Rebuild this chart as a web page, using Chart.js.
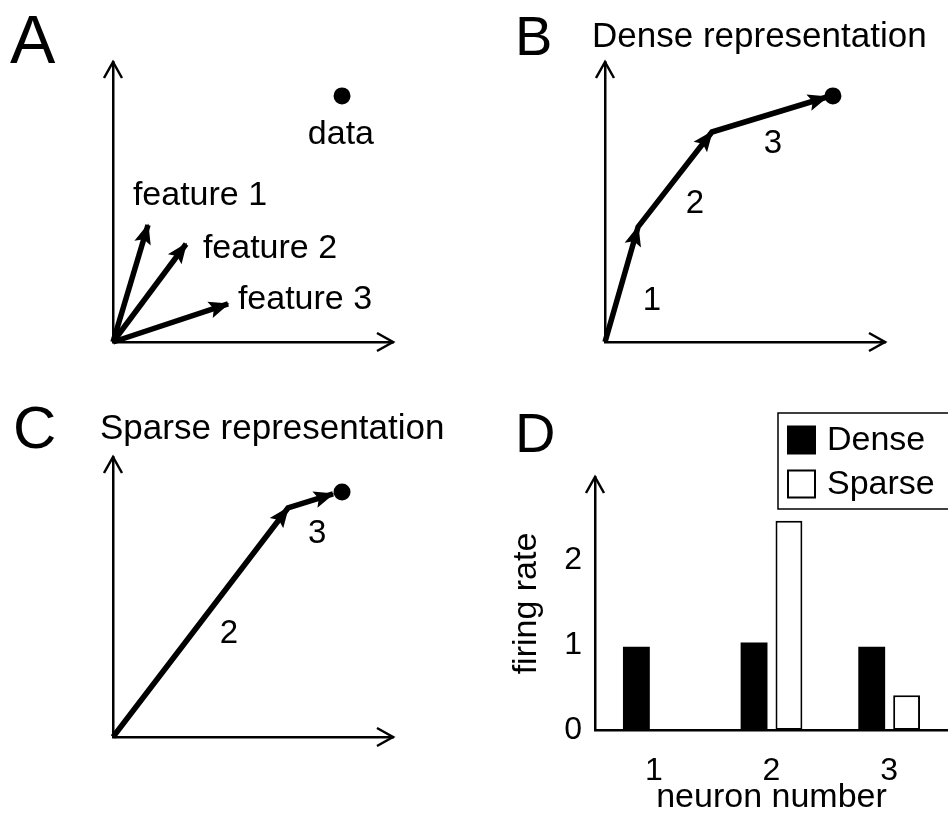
<!DOCTYPE html>
<html>
<head>
<meta charset="utf-8">
<script src="https://cdn.jsdelivr.net/npm/chart.js@4.4.1/dist/chart.umd.min.js"></script>
<style>
  html, body { margin: 0; padding: 0; background: #fff; }
  #wrap { position: relative; width: 948px; height: 815px; overflow: hidden; background: #fff; }
  #wrap canvas { position: absolute; left: 0; top: 0; }
</style>
</head>
<body>
<div id="wrap">
  <canvas id="cA" width="948" height="815" style="width:948px;height:815px"></canvas>
  <canvas id="cB" width="948" height="815" style="width:948px;height:815px"></canvas>
  <canvas id="cC" width="948" height="815" style="width:948px;height:815px"></canvas>
  <canvas id="cD" width="948" height="815" style="width:948px;height:815px"></canvas>
</div>
<script>
// ---------------- data ----------------
// Panel A: feature vectors (tips, all starting at the origin) and the data point
const featureNames = ['feature 1', 'feature 2', 'feature 3'];
const featureTipX = [1.25, 2.61, 4.11];
const featureTipY = [4.18, 3.50, 1.36];
const dataPointAX = [8.18];
const dataPointAY = [8.79];
const dataName = 'data';

// Panel B: dense representation (sum of three features)
const densePathX = [0, 1.18, 3.82, 7.93];
const densePathY = [0, 4.11, 7.50, 8.75];
const denseStepNames = ['1', '2', '3'];
const denseDotX = [8.14];
const denseDotY = [8.79];

// Panel C: sparse representation (two features)
const sparsePathX = [0, 6.25, 7.86];
const sparsePathY = [0, 8.18, 8.68];
const sparseStepNames = ['2', '3'];
const sparseDotX = [8.18];
const sparseDotY = [8.75];

// Panel D: firing rates
const neuronLabels = ['1', '2', '3'];
const denseRates = [0.98, 1.03, 0.98];
const sparseRates = [0, 2.46, 0.41];
const seriesNames = ['Dense', 'Sparse'];
const rateAxisTitle = 'firing rate';
const neuronAxisTitle = 'neuron number';

const panelLetters = ['A', 'B', 'C', 'D'];
const panelTitles = ['', 'Dense representation', 'Sparse representation', ''];

// ---------------- styling / layout ----------------
const FONT = '"Liberation Sans", Arial, Helvetica, sans-serif';
Chart.defaults.font.family = FONT;
Chart.defaults.color = '#000';
const CW = 948, CH = 815;

function pts(xs, ys) { return xs.map((x, i) => ({ x: x, y: ys[i] })); }

function drawHead(ctx, x0, y0, x1, y1, len, half, notch) {
  const a = Math.atan2(y1 - y0, x1 - x0);
  ctx.save();
  ctx.translate(x1, y1);
  ctx.rotate(a);
  ctx.beginPath();
  ctx.moveTo(1.5, 0);
  ctx.lineTo(-len, -half);
  ctx.lineTo(-len + notch, 0);
  ctx.lineTo(-len, half);
  ctx.closePath();
  ctx.fill();
  ctx.restore();
}

const arrowPlugin = {
  id: 'vecArrows',
  afterDatasetsDraw(chart) {
    const ctx = chart.ctx;
    chart.data.datasets.forEach((ds, i) => {
      if (!ds.arrowHeads) return;
      const el = chart.getDatasetMeta(i).data;
      ctx.save();
      ctx.fillStyle = ds.borderColor;
      for (let j = 1; j < el.length; j++) {
        drawHead(ctx, el[j - 1].x, el[j - 1].y, el[j].x, el[j].y, 19, 8.5, 4);
      }
      ctx.restore();
    });
  }
};

const axisArrowPlugin = {
  id: 'axisArrows',
  afterDraw(chart, args, opts) {
    const ctx = chart.ctx, a = chart.chartArea;
    ctx.save();
    ctx.strokeStyle = '#000';
    ctx.lineWidth = 2.5;
    ctx.lineJoin = 'miter';
    ctx.lineCap = 'butt';
    if (opts.up) {
      const x = a.left, y = a.top;
      ctx.beginPath();
      ctx.moveTo(x - 9, y + 16); ctx.lineTo(x, y); ctx.lineTo(x + 9, y + 16);
      ctx.stroke();
    }
    if (opts.right) {
      const x = a.right, y = a.bottom;
      ctx.beginPath();
      ctx.moveTo(x - 16, y - 9); ctx.lineTo(x, y); ctx.lineTo(x - 16, y + 9);
      ctx.stroke();
    }
    ctx.restore();
  }
};

const textPlugin = {
  id: 'panelText',
  afterDraw(chart, args, opts) {
    const ctx = chart.ctx;
    ctx.save();
    ctx.fillStyle = '#000';
    ctx.textBaseline = 'alphabetic';
    (opts.fixed || []).forEach(t => {
      if (!t.text) return;
      ctx.font = t.size + 'px ' + FONT;
      ctx.textAlign = t.align || 'left';
      ctx.fillText(t.text, t.x, t.y);
    });
    const xs = chart.scales.x, ys = chart.scales.y;
    (opts.anchored || []).forEach(t => {
      ctx.font = t.size + 'px ' + FONT;
      ctx.textAlign = t.align || 'left';
      ctx.fillText(t.text, xs.getPixelForValue(t.x), ys.getPixelForValue(t.y));
    });
    ctx.restore();
  }
};

const legendPlugin = {
  id: 'boxLegend',
  afterDraw(chart, args, o) {
    const ctx = chart.ctx;
    ctx.save();
    ctx.strokeStyle = '#000';
    ctx.lineWidth = 1.5;
    ctx.fillStyle = '#fff';
    ctx.fillRect(o.x, o.y, o.w, o.h);
    ctx.strokeRect(o.x, o.y, o.w, o.h);
    ctx.font = o.size + 'px ' + FONT;
    ctx.textAlign = 'left';
    ctx.textBaseline = 'middle';
    chart.data.datasets.forEach((ds, i) => {
      const y = o.itemY[i];
      ctx.fillStyle = ds.backgroundColor;
      ctx.fillRect(o.boxX, y - o.box / 2, o.box, o.box);
      ctx.strokeStyle = '#000';
      ctx.lineWidth = 2;
      ctx.strokeRect(o.boxX, y - o.box / 2, o.box, o.box);
      ctx.fillStyle = '#000';
      ctx.fillText(ds.label, o.textX, y + 1);
    });
    ctx.restore();
  }
};

function hiddenAxis(max) {
  return {
    type: 'linear', min: 0, max: max,
    grid: { display: false, drawTicks: false },
    ticks: { display: false },
    border: { display: true, width: 2.5, color: '#000' }
  };
}

function vectorChart(id, area, datasets, fixed, anchored) {
  return new Chart(document.getElementById(id), {
    type: 'scatter',
    data: { datasets: datasets },
    options: {
      responsive: false, animation: false, events: [],
      layout: { padding: { left: area.left, top: area.top, right: CW - area.right, bottom: CH - area.bottom } },
      scales: { x: hiddenAxis(10), y: hiddenAxis(10) },
      plugins: {
        legend: { display: false }, tooltip: { enabled: false },
        axisArrows: { up: true, right: true },
        panelText: { fixed: fixed, anchored: anchored }
      }
    },
    plugins: [arrowPlugin, axisArrowPlugin, textPlugin]
  });
}

function vecDataset(xs, ys) {
  return {
    data: pts(xs, ys), showLine: true, borderColor: '#000', backgroundColor: '#000',
    borderWidth: 5.5, pointRadius: 0, tension: 0, clip: false, arrowHeads: true,
    borderCapStyle: 'butt', borderJoinStyle: 'miter'
  };
}
function dotDataset(xs, ys) {
  return {
    data: pts(xs, ys), showLine: false, pointRadius: 8.5, pointBackgroundColor: '#000',
    pointBorderWidth: 0, clip: false
  };
}

// ---- Panel A ----
const featureLabelPos = [[0.71, 4.89], [3.21, 3.00], [4.46, 1.18]];
vectorChart('cA', { left: 113, top: 62, right: 393, bottom: 342 },
  featureNames.map((n, i) => Object.assign(vecDataset([0, featureTipX[i]], [0, featureTipY[i]]), { label: n }))
    .concat([dotDataset(dataPointAX, dataPointAY)]),
  [{ text: panelLetters[0], x: 10, y: 63, size: 68 }],
  featureNames.map((n, i) => ({ text: n, x: featureLabelPos[i][0], y: featureLabelPos[i][1], size: 34 }))
    .concat([{ text: dataName, x: 8.14, y: 7.07, size: 34, align: 'center' }])
);

// ---- Panel B ----
const denseLabelPos = [[1.68, 1.14], [3.21, 4.61], [6.00, 6.75]];
vectorChart('cB', { left: 605, top: 62, right: 885, bottom: 342 },
  [vecDataset(densePathX, densePathY), dotDataset(denseDotX, denseDotY)],
  [{ text: panelLetters[1], x: 515, y: 55, size: 56 },
   { text: panelTitles[1], x: 592, y: 47, size: 35 }],
  denseStepNames.map((n, i) => ({ text: n, x: denseLabelPos[i][0], y: denseLabelPos[i][1], size: 33, align: 'center' }))
);

// ---- Panel C ----
const sparseLabelPos = [[4.14, 3.36], [7.29, 6.93]];
vectorChart('cC', { left: 113, top: 457, right: 393, bottom: 737 },
  [vecDataset(sparsePathX, sparsePathY), dotDataset(sparseDotX, sparseDotY)],
  [{ text: panelLetters[2], x: 13, y: 448, size: 60 },
   { text: panelTitles[2], x: 100, y: 439, size: 35 }],
  sparseStepNames.map((n, i) => ({ text: n, x: sparseLabelPos[i][0], y: sparseLabelPos[i][1], size: 33, align: 'center' }))
);

// ---- Panel D ----
new Chart(document.getElementById('cD'), {
  type: 'bar',
  data: {
    labels: neuronLabels,
    datasets: [
      { label: seriesNames[0], data: denseRates, backgroundColor: '#000', borderColor: '#000', borderWidth: 0, inflateAmount: 0 },
      { label: seriesNames[1], data: sparseRates, backgroundColor: '#fff', borderColor: '#000', borderWidth: 2, borderSkipped: false, inflateAmount: 0 }
    ]
  },
  options: {
    responsive: false, animation: false, events: [],
    layout: { padding: { left: 510, top: 477, right: 0, bottom: 0 } },
    datasets: { bar: { categoryPercentage: 0.593, barPercentage: 0.77 } },
    scales: {
      x: {
        type: 'category',
        grid: { display: false, drawTicks: false },
        border: { display: true, width: 2.5, color: '#000' },
        ticks: { font: { size: 32 }, padding: 22, color: '#000', maxRotation: 0 },
        title: { display: true, text: neuronAxisTitle, font: { size: 34, lineHeight: 1.0 }, padding: 0, color: '#000' },
        afterFit(s) { s.height = 85; }
      },
      y: {
        type: 'linear', min: 0, max: 2.976,
        grid: { display: false, drawTicks: false },
        border: { display: true, width: 2.5, color: '#000' },
        ticks: { stepSize: 1, includeBounds: false, font: { size: 32 }, padding: 13, color: '#000' },
        title: { display: true, text: rateAxisTitle, font: { size: 34, lineHeight: 1.0 }, padding: 0, color: '#000' },
        afterFit(s) { s.width = 85; }
      }
    },
    plugins: {
      legend: { display: false }, tooltip: { enabled: false },
      axisArrows: { up: true, right: false },
      panelText: { fixed: [{ text: panelLetters[3], x: 515, y: 452, size: 56 }], anchored: [] },
      boxLegend: { x: 778, y: 413, w: 200, h: 96, boxX: 788, box: 27, itemY: [440, 484], textX: 827, size: 34 }
    }
  },
  plugins: [axisArrowPlugin, textPlugin, legendPlugin]
});
</script>
</body>
</html>
